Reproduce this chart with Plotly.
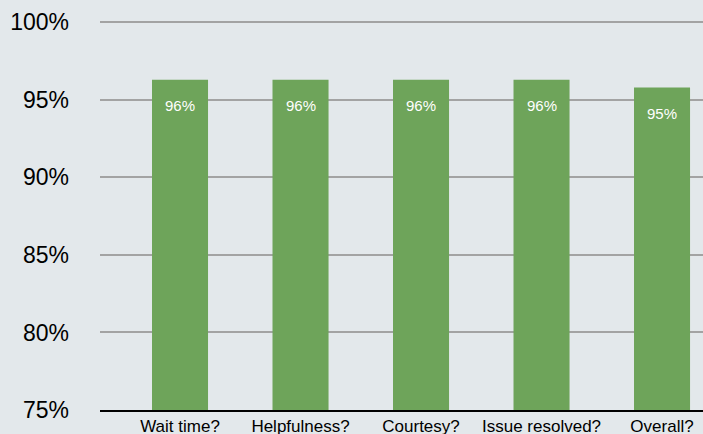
import plotly.graph_objects as go

categories = ["Wait time?", "Helpfulness?", "Courtesy?", "Issue resolved?", "Overall?"]
values = [96.3, 96.3, 96.3, 96.3, 95.8]
labels = ["96%", "96%", "96%", "96%", "95%"]
y_ticks = [75, 80, 85, 90, 95, 100]
y_tick_text = ["75%", "80%", "85%", "90%", "95%", "100%"]

bar_color = "#6ea45a"
bg = "#e3e8eb"

fig = go.Figure()
fig.add_trace(go.Bar(x=categories, y=values, marker_color=bar_color, width=0.465,
                     marker_line_width=0, hoverinfo="skip"))

for c, v, t in zip(categories, values, labels):
    fig.add_annotation(x=c, y=v, text=t, showarrow=False, yanchor="middle", yshift=-26,
                       font=dict(family="Liberation Sans, Arial, sans-serif", size=15, color="white"))

fig.update_layout(
    width=703, height=434,
    margin=dict(l=100, r=0, t=21, b=24, autoexpand=False),
    paper_bgcolor=bg, plot_bgcolor=bg,
    showlegend=False,
    font=dict(family="Liberation Sans, Arial, sans-serif", color="black"),
    xaxis=dict(type="category", range=[-0.664, 4.34], showgrid=False, automargin=False,
               showline=True, linecolor="black", linewidth=2,
               tickfont=dict(size=17), ticks="", ticklabelstandoff=0),
    yaxis=dict(range=[75, 100.08], tickmode="array", tickvals=y_ticks, ticktext=y_tick_text,
               showgrid=True, gridcolor="#a3a3a3", gridwidth=2, automargin=False,
               zeroline=False, showline=False, tickfont=dict(size=23),
               ticks="", ticklabelstandoff=30),
)

fig.write_html("out.html", config={"displayModeBar": False},
               post_script="document.body.style.margin='0';document.body.style.overflow='hidden';document.body.style.background='%s';" % bg)
